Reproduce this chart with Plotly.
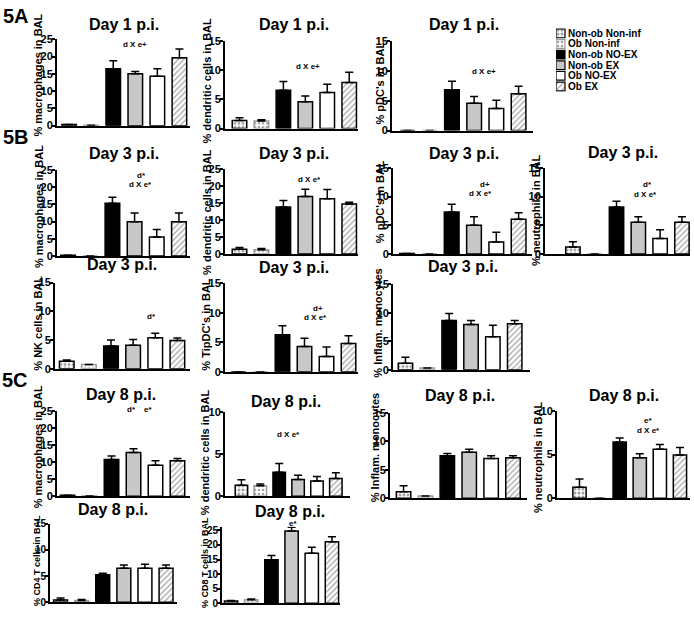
import plotly.graph_objects as go

W, H = 694, 617
FONT = "Liberation Sans, Arial, sans-serif"

# ---------------- data ----------------
GROUPS = ["Non-ob Non-inf", "Ob Non-inf", "Non-ob NO-EX", "Non-ob EX", "Ob NO-EX", "Ob EX"]

mac_d1 = [0.3, 0.1, 16.5, 15.0, 14.3, 19.7]
mac_d1_err = [None, None, 2.3, 0.7, 2.2, 2.5]
dc_d1 = [1.4, 1.3, 6.6, 4.6, 6.2, 7.9]
dc_d1_err = [0.45, 0.2, 1.5, 1.0, 1.4, 1.8]
pdc_d1 = [0, 0, 6.85, 4.6, 3.7, 6.2]
pdc_d1_err = [None, None, 1.45, 1.1, 1.4, 1.25]

mac_d3 = [0.2, 0.0, 15.3, 9.9, 5.5, 9.9]
mac_d3_err = [None, None, 1.7, 2.6, 2.2, 2.6]
dc_d3 = [1.4, 1.25, 13.8, 16.9, 16.2, 14.7]
dc_d3_err = [0.5, 0.35, 1.9, 2.1, 2.7, 0.5]
pdc_d3 = [0.1, 0, 7.3, 5.0, 2.1, 6.05]
pdc_d3_err = [None, None, 1.35, 1.5, 1.7, 1.15]
neu_d3 = [1.25, 0, 8.2, 5.55, 2.7, 5.55]
neu_d3_err = [0.9, None, 1.0, 0.95, 1.55, 0.95]
nk_d3 = [1.3, 0.75, 3.95, 4.1, 5.4, 4.9]
nk_d3_err = [0.25, None, 1.05, 1.0, 0.8, 0.45]
tip_d3 = [0, 0, 6.3, 4.3, 2.6, 4.8]
tip_d3_err = [None, None, 1.5, 1.4, 1.6, 1.3]
infl_d3 = [1.15, 0.3, 8.65, 7.95, 5.8, 8.1]
infl_d3_err = [1.05, None, 1.25, 0.7, 2.05, 0.55]

mac_d8 = [0.3, 0.1, 10.8, 12.8, 9.1, 10.4]
mac_d8_err = [None, None, 1.0, 1.1, 1.3, 0.7]
dc_d8 = [1.3, 1.25, 2.85, 2.0, 1.8, 2.1]
dc_d8_err = [0.65, 0.2, 1.05, 0.5, 0.55, 0.7]
infl_d8 = [1.15, 0.4, 7.45, 8.1, 7.0, 7.1]
infl_d8_err = [1.05, None, 0.4, 0.5, 0.45, 0.35]
neu_d8 = [1.27, 0, 6.45, 4.65, 5.6, 4.95]
neu_d8_err = [0.93, None, 0.45, 0.45, 0.55, 0.85]
cd4_d8 = [0.4, 0.3, 5.25, 6.5, 6.5, 6.5]
cd4_d8_err = [0.4, 0.2, 0.3, 0.6, 0.75, 0.6]
cd8_d8 = [0.7, 1.2, 14.9, 24.8, 17.2, 21.1]
cd8_d8_err = [0.2, 0.25, 1.5, 1.3, 2.0, 1.7]

# ---------------- group styles ----------------
FILL = ["white", "white", "black", "#c8c8c8", "white", "white"]
EDGE = ["black", "#9a9a9a", "black", "black", "black", "black"]
PAT = [".", ".", "", "", "", "/"]
PFG = ["#555555", "#bdbdbd", "black", "black", "black", "black"]
PSIZE = [4, 4, 6, 6, 6, 4]
PSOL = [0.45, 0.35, 0.3, 0.3, 0.3, 0.3]

# ---------------- panel layout (pixels) ----------------
panels = [
    (mac_d1, mac_d1_err, "% macrophages in BAL", 25, 5, 57, 190, 34, 122, -0.55, 5.48, "Day 1 p.i.", (124, 19), (38, 71), 11, 11,
     [("d X e+", 135, 39)]),
    (dc_d1, dc_d1_err, "% dendritic cells in BAL", 15, 5, 225, 358, 36, 125, -0.66, 5.4, "Day 1 p.i.", (294, 19), (207, 76), 11, 11,
     [("d X e+", 308, 62)]),
    (pdc_d1, pdc_d1_err, "% pDC's in BAL", 15, 5, 392, 533, 36, 127, -0.70, 5.65, "Day 1 p.i.", (464, 19), (380, 78), 11, 11,
     [("d X e+", 484, 67)]),
    (mac_d3, mac_d3_err, "% macrophages in BAL", 25, 5, 57, 190, 167, 255, -0.5, 5.5, "Day 3 p.i.", (124, 150), (39, 205), 11, 11,
     [("d*", 141, 173), ("d X e*", 140, 182)]),
    (dc_d3, dc_d3_err, "% dendritic cells in BAL", 25, 5, 225, 358, 166, 253, -0.66, 5.4, "Day 3 p.i.", (294, 150), (207, 210), 11, 11,
     [("d X e*", 309, 177)]),
    (pdc_d3, pdc_d3_err, "% pDC's in BAL", 15, 5, 393, 532, 165, 253, -0.63, 5.6, "Day 3 p.i.", (464, 150), (380, 199), 11, 11,
     [("d+", 485, 182), ("d X e*", 480, 191)]),
    (neu_d3, neu_d3_err, "% neutrophils in BAL", 15, 5, 545, 690, 165, 253, -1.28, 5.37, "Day 3 p.i.", (623, 149), (536, 208), 11, 11,
     [("d*", 647, 182), ("d X e*", 645, 192)]),
    (nk_d3, nk_d3_err, "% NK cells in BAL", 15, 5, 55, 190, 282, 370, -0.53, 5.57, "Day 3 p.i.", (122, 264), (38, 324), 11, 11,
     [("d*", 151, 317)]),
    (tip_d3, tip_d3_err, "% TipDC's in BAL", 15, 5, 225, 358, 283, 373, -0.61, 5.43, "Day 3 p.i.", (294, 267), (206, 325), 11, 11,
     [("d+", 318, 308), ("d X e*", 315, 318)]),
    (infl_d3, infl_d3_err, "% Inflam. monocytes", 15, 5, 393, 530, 284, 371, -0.57, 5.7, "Day 3 p.i.", (463, 266), (378, 324), 11, 11,
     []),
    (mac_d8, mac_d8_err, "% macrophages in BAL", 25, 5, 57, 190, 413, 500, -0.48, 5.57, "Day 8 p.i.", (121, 396), (38, 450), 11, 11,
     [("d*", 131, 412), ("e*", 148, 412)]),
    (dc_d8, dc_d8_err, "% dendritic cells in BAL", 10, 5, 225, 350, 414, 500, -0.87, 5.75, "Day 8 p.i.", (286, 403), (205, 455), 11, 11,
     [("d X e*", 288, 437)]),
    (infl_d8, infl_d8_err, "% Inflam. monocytes", 15, 5, 390, 527, 415, 502, -0.62, 5.64, "Day 8 p.i.", (460, 397), (375, 451), 11, 11,
     []),
    (neu_d8, neu_d8_err, "% neutrophils in BAL", 10, 5, 557, 690, 413, 502, -1.12, 5.5, "Day 8 p.i.", (624, 397), (538, 460), 11, 11,
     [("e*", 648, 423), ("d X e*", 648, 433)]),
    (cd4_d8, cd4_d8_err, "% CD4 T cells in BAL", 15, 5, 50, 177, 528, 608, -0.5, 5.52, "Day 8 p.i.", (113, 513), (37, 566), 9, 10,
     []),
    (cd8_d8, cd8_d8_err, "% CD8 T cells in BAL", 26.3, 5, 222, 340, 531, 609, -0.45, 5.4, "Day 8 p.i.", (290, 516), (205, 568), 9, 10,
     [("e*", 293, 528)]),
]

PANEL_LABELS = [("5A", 16, 10), ("5B", 16, 134), ("5C", 15, 381)]


def px(x):
    return x / W


def py(y):
    return 1 - y / H


fig = go.Figure()
layout = dict(
    width=W, height=H, autosize=False,
    margin=dict(l=0, r=0, t=0, b=0, pad=0),
    paper_bgcolor="white", plot_bgcolor="white",
    showlegend=False,
    font=dict(family=FONT, color="black"),
)
annotations = []

for i, p in enumerate(panels, start=1):
    (vals, errs, ytitle, ymax, dtick, x0, x1, yt, yb, xlo, xhi,
     title, tpos, lpos, lsize, tsize, notes) = p
    xa = "x" if i == 1 else f"x{i}"
    ya = "y" if i == 1 else f"y{i}"
    fig.add_trace(go.Bar(
        x=GROUPS, y=vals, width=0.66,
        marker=dict(color=FILL, line=dict(color=EDGE, width=1.5),
                    pattern=dict(shape=PAT, fgcolor=PFG, size=PSIZE, solidity=PSOL)),
        error_y=dict(type="data", array=errs, arrayminus=[0] * 6, symmetric=False,
                     color="black", thickness=1.5, width=4),
        xaxis=xa, yaxis=ya, showlegend=False, hoverinfo="skip",
    ))
    xkey = "xaxis" if i == 1 else f"xaxis{i}"
    ykey = "yaxis" if i == 1 else f"yaxis{i}"
    tv = list(range(0, int(ymax) + 1, dtick))
    layout[xkey] = dict(domain=[px(x0), px(x1)], anchor=ya, type="category",
                        range=[xlo, xhi], showticklabels=False, ticks="",
                        showline=True, linecolor="black", linewidth=2,
                        showgrid=False, zeroline=False, fixedrange=True)
    layout[ykey] = dict(domain=[py(yb), py(yt)], anchor=xa, range=[0, ymax],
                        tickvals=tv, ticktext=[f"<b>{v}</b>" for v in tv],
                        ticks="outside", ticklen=3, tickwidth=1.5, ticklabelstandoff=-3,
                        tickcolor="black", showline=True, linecolor="black", linewidth=2,
                        showgrid=False, zeroline=False, fixedrange=True,
                        tickfont=dict(family=FONT, size=tsize, color="black"))
    annotations.append(dict(text=f"<b>{title}</b>", x=px(tpos[0]), y=py(tpos[1]), xref="paper", yref="paper",
                            xanchor="center", yanchor="middle", showarrow=False,
                            font=dict(family=FONT, size=16, color="black")))
    annotations.append(dict(text=f"<b>{ytitle}</b>", x=px(lpos[0]), y=py(lpos[1]), xref="paper", yref="paper",
                            xanchor="center", yanchor="middle", showarrow=False, textangle=-90,
                            font=dict(family=FONT, size=lsize, color="black")))
    for txt, nx, ny in notes:
        annotations.append(dict(text=f"<b>{txt}</b>", x=px(nx), y=py(ny), xref="paper", yref="paper",
                                xanchor="center", yanchor="middle", showarrow=False,
                                font=dict(family=FONT, size=8, color="black")))

for txt, lx, ly in PANEL_LABELS:
    annotations.append(dict(text=f"<b>{txt}</b>", x=px(lx), y=py(ly), xref="paper", yref="paper",
                            xanchor="center", yanchor="middle", showarrow=False,
                            font=dict(family=FONT, size=20, color="black")))

# ---------------- legend (built as a small bar chart) ----------------
n = len(panels) + 1
fig.add_trace(go.Bar(
    y=GROUPS, x=[1] * len(GROUPS), orientation="h", width=0.82, base=0,
    marker=dict(color=FILL, line=dict(color=EDGE, width=1.2),
                pattern=dict(shape=PAT, fgcolor=PFG, size=PSIZE, solidity=PSOL)),
    text=GROUPS, texttemplate="<b>%{text}</b>", textposition="outside",
    cliponaxis=False, constraintext="none",
    textfont=dict(family=FONT, size=10, color="black"),
    outsidetextfont=dict(family=FONT, size=10, color="black"),
    xaxis=f"x{n}", yaxis=f"y{n}", showlegend=False, hoverinfo="skip",
))
layout[f"xaxis{n}"] = dict(domain=[px(556), px(680)], anchor=f"y{n}", range=[0, 13.8],
                           visible=False, fixedrange=True)
layout[f"yaxis{n}"] = dict(domain=[py(87.5), py(22.5)], anchor=f"x{n}", type="category",
                           range=[5.5, -0.5], visible=False, fixedrange=True)

layout["annotations"] = annotations
fig.update_layout(**layout)
fig.write_html("out.html", config={"displayModeBar": False},
               post_script="document.body.style.margin='0';document.body.style.padding='0';"
                           "document.body.style.overflow='hidden';")
